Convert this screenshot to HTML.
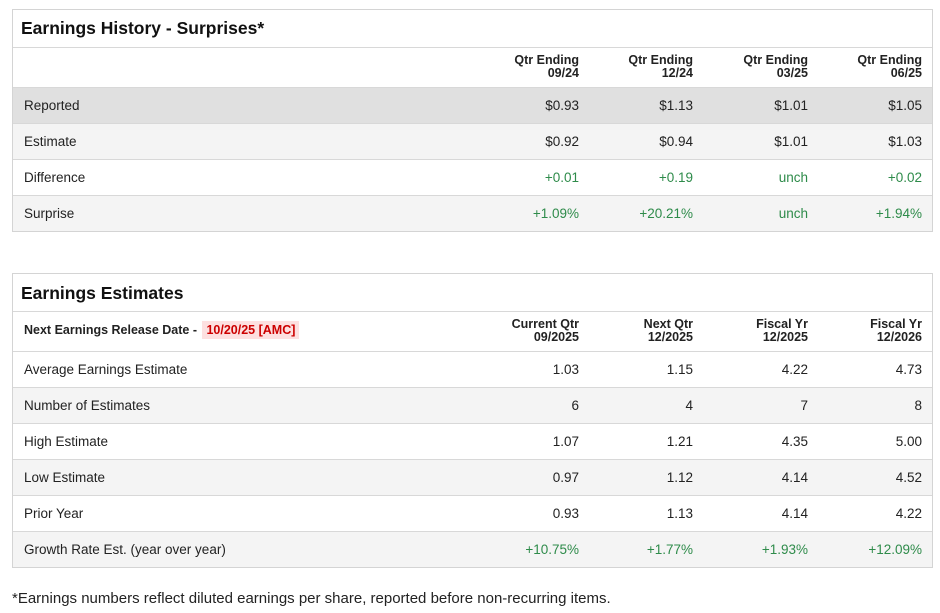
<!DOCTYPE html>
<html><head><meta charset="utf-8">
<style>
body{margin:0;width:940px;height:613px;background:#fff;font-family:"Liberation Sans",sans-serif;color:#222;position:relative;overflow:hidden}
.box{position:absolute;left:12px;width:921px;border:1px solid #d4d4d4;box-sizing:border-box}
.row{position:absolute;left:0;width:919px;border-top:1px solid #d8d8d8;box-sizing:border-box}
.title{position:absolute;left:8px;font-weight:bold;font-size:17.5px;color:#111}
.lbl{position:absolute;left:11px;font-size:13.5px}
.c{position:absolute;font-size:13.5px;text-align:right;width:110px}
.h{font-weight:bold;font-size:12.5px;line-height:13px}
.g{color:#2e8b4a}
.w{background:#fff}.l{background:#f4f4f4}.d{background:#e0e0e0}
</style></head><body>
<div class="box" style="top:9px;height:223px">
 <div class="title" style="top:8px">Earnings History - Surprises*</div>
 <div class="row w" style="top:37px;height:40px">
  <div class="c h" style="left:456px;top:6px">Qtr Ending<br>09/24</div>
  <div class="c h" style="left:570px;top:6px">Qtr Ending<br>12/24</div>
  <div class="c h" style="left:685px;top:6px">Qtr Ending<br>03/25</div>
  <div class="c h" style="left:799px;top:6px">Qtr Ending<br>06/25</div>
 </div>
 <div class="row d" style="top:77px;height:36px">
  <div class="lbl" style="top:10px">Reported</div>
  <div class="c" style="left:456px;top:10px">$0.93</div><div class="c" style="left:570px;top:10px">$1.13</div><div class="c" style="left:685px;top:10px">$1.01</div><div class="c" style="left:799px;top:10px">$1.05</div>
 </div>
 <div class="row l" style="top:113px;height:36px">
  <div class="lbl" style="top:10px">Estimate</div>
  <div class="c" style="left:456px;top:10px">$0.92</div><div class="c" style="left:570px;top:10px">$0.94</div><div class="c" style="left:685px;top:10px">$1.01</div><div class="c" style="left:799px;top:10px">$1.03</div>
 </div>
 <div class="row w" style="top:149px;height:36px">
  <div class="lbl" style="top:10px">Difference</div>
  <div class="c g" style="left:456px;top:10px">+0.01</div><div class="c g" style="left:570px;top:10px">+0.19</div><div class="c g" style="left:685px;top:10px">unch</div><div class="c g" style="left:799px;top:10px">+0.02</div>
 </div>
 <div class="row l" style="top:185px;height:36px">
  <div class="lbl" style="top:10px">Surprise</div>
  <div class="c g" style="left:456px;top:10px">+1.09%</div><div class="c g" style="left:570px;top:10px">+20.21%</div><div class="c g" style="left:685px;top:10px">unch</div><div class="c g" style="left:799px;top:10px">+1.94%</div>
 </div>
</div>

<div class="box" style="top:273px;height:295px">
 <div class="title" style="top:9px">Earnings Estimates</div>
 <div class="row w" style="top:37px;height:40px">
  <div class="lbl" style="top:11px;font-weight:bold;font-size:12.5px">Next Earnings Release Date - <span style="background:#fde0e0;color:#c00;padding:2px 4px;margin-left:2px">10/20/25 [AMC]</span></div>
  <div class="c h" style="left:456px;top:6px">Current Qtr<br>09/2025</div>
  <div class="c h" style="left:570px;top:6px">Next Qtr<br>12/2025</div>
  <div class="c h" style="left:685px;top:6px">Fiscal Yr<br>12/2025</div>
  <div class="c h" style="left:799px;top:6px">Fiscal Yr<br>12/2026</div>
 </div>
 <div class="row w" style="top:77px;height:36px">
  <div class="lbl" style="top:10px">Average Earnings Estimate</div>
  <div class="c" style="left:456px;top:10px">1.03</div><div class="c" style="left:570px;top:10px">1.15</div><div class="c" style="left:685px;top:10px">4.22</div><div class="c" style="left:799px;top:10px">4.73</div>
 </div>
 <div class="row l" style="top:113px;height:36px">
  <div class="lbl" style="top:10px">Number of Estimates</div>
  <div class="c" style="left:456px;top:10px">6</div><div class="c" style="left:570px;top:10px">4</div><div class="c" style="left:685px;top:10px">7</div><div class="c" style="left:799px;top:10px">8</div>
 </div>
 <div class="row w" style="top:149px;height:36px">
  <div class="lbl" style="top:10px">High Estimate</div>
  <div class="c" style="left:456px;top:10px">1.07</div><div class="c" style="left:570px;top:10px">1.21</div><div class="c" style="left:685px;top:10px">4.35</div><div class="c" style="left:799px;top:10px">5.00</div>
 </div>
 <div class="row l" style="top:185px;height:36px">
  <div class="lbl" style="top:10px">Low Estimate</div>
  <div class="c" style="left:456px;top:10px">0.97</div><div class="c" style="left:570px;top:10px">1.12</div><div class="c" style="left:685px;top:10px">4.14</div><div class="c" style="left:799px;top:10px">4.52</div>
 </div>
 <div class="row w" style="top:221px;height:36px">
  <div class="lbl" style="top:10px">Prior Year</div>
  <div class="c" style="left:456px;top:10px">0.93</div><div class="c" style="left:570px;top:10px">1.13</div><div class="c" style="left:685px;top:10px">4.14</div><div class="c" style="left:799px;top:10px">4.22</div>
 </div>
 <div class="row l" style="top:257px;height:36px">
  <div class="lbl" style="top:10px">Growth Rate Est. (year over year)</div>
  <div class="c g" style="left:456px;top:10px">+10.75%</div><div class="c g" style="left:570px;top:10px">+1.77%</div><div class="c g" style="left:685px;top:10px">+1.93%</div><div class="c g" style="left:799px;top:10px">+12.09%</div>
 </div>
</div>

<div style="position:absolute;left:12px;top:590px;font-size:15px">*Earnings numbers reflect diluted earnings per share, reported before non-recurring items.</div>
</body></html>
